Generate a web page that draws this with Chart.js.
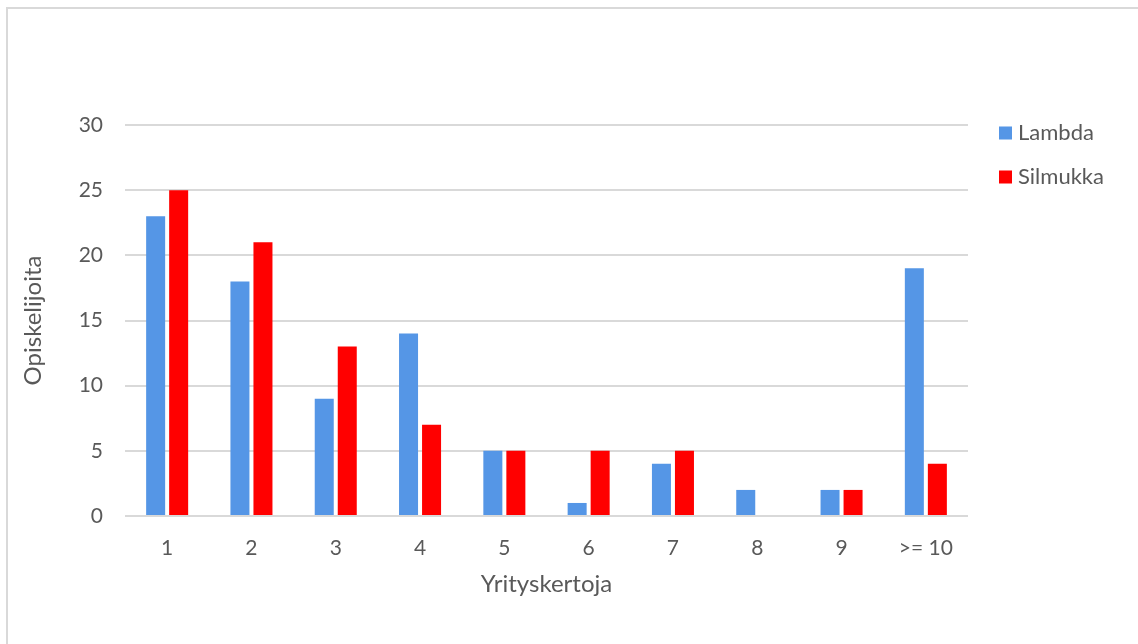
<!DOCTYPE html>
<html>
<head>
<meta charset="utf-8">
<script src="https://cdn.jsdelivr.net/npm/chart.js@4/dist/chart.umd.min.js"></script>
<style>
  html, body { margin:0; padding:0; background:#fff; }
  #wrap { width:1138px; height:644px; position:relative; }
</style>
</head>
<body>
<div id="wrap"><canvas id="yritykset"></canvas></div>
<script>
// data
const categories = ['1','2','3','4','5','6','7','8','9','>= 10'];
const lambdaValues = [23, 18, 9, 14, 5, 1, 4, 2, 2, 19];
const silmukkaValues = [25, 21, 13, 7, 5, 5, 5, 0, 2, 4];
const yTicks = [0, 5, 10, 15, 20, 25, 30];

const fontFam = 'Lato, "Open Sans", sans-serif';
const textCol = '#595959';
const gridCol = '#d9d9d9';

// frame (top + left line) and legend at the right
const framePlugin = {
  id:'frame',
  beforeDraw(chart) {
    const c = chart.ctx;
    c.save();
    c.strokeStyle = gridCol; c.lineWidth = 2;
    c.beginPath();
    c.moveTo(7, 644); c.lineTo(7, 8); c.lineTo(1138, 8);
    c.stroke();
    c.restore();
  },
  afterDraw(chart) {
    const c = chart.ctx;
    c.save();
    c.font = '22px ' + fontFam;
    c.textBaseline = 'middle';
    chart.data.datasets.forEach((ds, i) => {
      const y = 133 + i * 44;
      c.fillStyle = ds.backgroundColor;
      c.fillRect(999, y - 6.5, 13, 13);
      c.fillStyle = textCol;
      c.fillText(ds.label, 1018, y);
    });
    c.restore();
  }
};

const ctx = document.getElementById('yritykset').getContext('2d');
new Chart(ctx, {
  type:'bar',
  data:{labels:categories, datasets:[
    {label:'Lambda', data:lambdaValues, backgroundColor:'#5596e6', categoryPercentage:0.546, barPercentage:0.826},
    {label:'Silmukka', data:silmukkaValues, backgroundColor:'#ff0000', categoryPercentage:0.546, barPercentage:0.826}
  ]},
  options:{
    responsive:true, maintainAspectRatio:false, animation:false,
    layout:{padding:{left:15, top:125, right:170, bottom:41}},
    plugins:{legend:{display:false}, tooltip:{enabled:false}},
    scales:{
      x:{
        grid:{display:false}, border:{display:false},
        ticks:{color:textCol, font:{family:fontFam, size:21}, padding:12},
        title:{display:true, text:'Yrityskertoja', color:textCol, font:{family:fontFam, size:24}},
        afterFit(s){ s.height = 87; }
      },
      y:{
        min:0, max:30,
        grid:{color:gridCol, lineWidth:2, drawTicks:false}, border:{display:false},
        afterBuildTicks(s){ s.ticks = yTicks.map(v => ({value:v})); },
        ticks:{color:textCol, font:{family:fontFam, size:21}, padding:22},
        title:{display:true, text:'Opiskelijoita', color:textCol, font:{family:fontFam, size:24}},
        afterFit(s){ s.width = 110; }
      }
    }
  },
  plugins:[framePlugin]
});
</script>
</body>
</html>
